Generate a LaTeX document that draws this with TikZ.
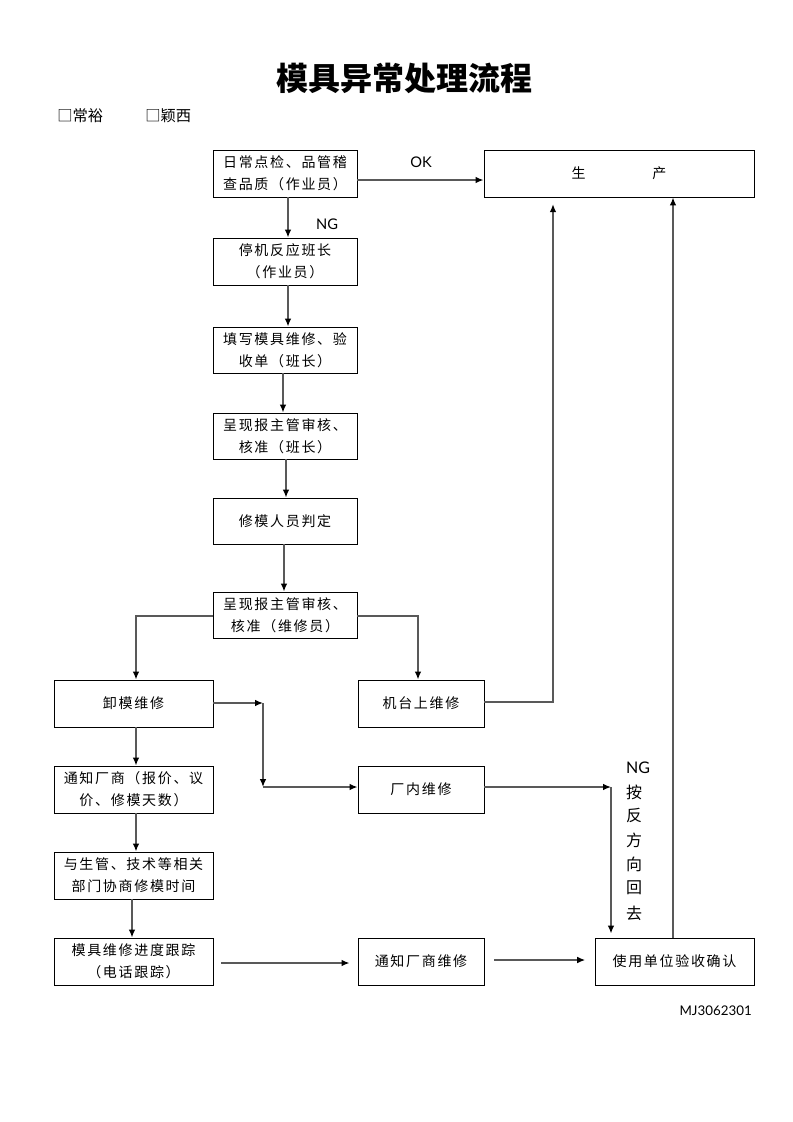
\documentclass[tikz,border=0pt]{standalone}
\usepackage{fontspec}
\setmainfont{Liberation Serif}
\newfontfamily\cjk[LetterSpace=12]{Noto Sans CJK SC}
\newfontfamily\cjkt{Noto Sans CJK SC}
\newfontfamily\latn{Lato}
\usetikzlibrary{arrows.meta}
\begin{document}
\begin{tikzpicture}[x=0.75pt,y=-0.75pt,
  box/.style={draw,line width=0.7pt,inner sep=0pt,align=center,
    font=\cjk\fontsize{10.5}{16.5}\selectfont},
  conn/.style={draw=black!65,line width=1.1pt,
    -{Latex[length=6pt,width=5pt,color=black]}},
  lbl/.style={inner sep=0pt,font=\latn\fontsize{11}{13}\selectfont},
  vch/.style={inner sep=0pt,font=\cjkt\fontsize{12}{14}\selectfont}]
\useasboundingbox (0,0) rectangle (793,1122);
\newcommand\bx[6]{\node[box,minimum width={(#4-#2)*0.75pt},minimum height={(#5-#3)*0.75pt}] (#1) at ({(#2+#4)/2},{(#3+#5)/2}) {#6};}

% title
\node[inner sep=0pt,font=\cjkt\bfseries\fontsize{24}{27}\selectfont] (title) at (404,78) {模具异常处理流程};
\node[inner sep=0pt,anchor=west,font=\cjkt\fontsize{11.5}{13}\selectfont] (c1) at (57,116) {□常裕};
\node[inner sep=0pt,anchor=west,font=\cjkt\fontsize{11.5}{13}\selectfont] (c2) at (145,116) {□颖西};

% boxes
\bx{b1}{213}{150}{357}{197}{日常点检、品管稽\\查品质（作业员）}
\bx{prod}{484}{150}{754}{197}{生\hspace{50pt}产}
\bx{b2}{213}{238}{357}{285}{停机反应班长\\（作业员）}
\bx{b3}{213}{327}{357}{373}{填写模具维修、验\\收单（班长）}
\bx{b4}{213}{413}{357}{459}{呈现报主管审核、\\核准（班长）}
\bx{b5}{213}{498}{357}{544}{修模人员判定}
\bx{b6}{213}{592}{357}{638}{呈现报主管审核、\\核准（维修员）}
\bx{b7}{54}{680}{213}{727}{卸模维修}
\bx{b8}{358}{680}{484}{727}{机台上维修}
\bx{b9}{54}{766}{213}{813}{通知厂商（报价、议\\价、修模天数）}
\bx{b10}{358}{766}{484}{813}{厂内维修}
\bx{b11}{54}{852}{213}{899}{与生管、技术等相关\\部门协商修模时间}
\bx{b12}{54}{938}{213}{985}{模具维修进度跟踪\\（电话跟踪）}
\bx{b13}{358}{938}{484}{985}{通知厂商维修}
\bx{b14}{595}{938}{754}{985}{使用单位验收确认}

% labels
\node[lbl] (ok) at (421,162) {OK};
\node[lbl] (ng1) at (327,224) {NG};
\node[lbl,font=\latn\fontsize{12}{14}\selectfont] (ng2) at (638,768) {NG};
\node[vch] (v1) at (634,792) {按};
\node[vch] (v2) at (634,816) {反};
\node[vch] (v3) at (634,840) {方};
\node[vch] (v4) at (634,864) {向};
\node[vch] (v5) at (634,888) {回};
\node[vch] (v6) at (634,913) {去};
\node[inner sep=0pt,anchor=east,font=\latn\fontsize{10}{12}\selectfont] (code) at (752,1011) {MJ3062301};

% junction coordinates
\coordinate (j1) at (263,703);
\coordinate (j2) at (263,787);
\coordinate (j3) at (611,787);

% connectors
\draw[conn] (b1.east |- 0,180) -- (prod.west |- 0,180);
\draw[conn] (b1.south -| 288,0) -- (b2.north -| 288,0);
\draw[conn] (b2.south -| 288,0) -- (b3.north -| 288,0);
\draw[conn] (b3.south -| 283,0) -- (b4.north -| 283,0);
\draw[conn] (b4.south -| 286,0) -- (b5.north -| 286,0);
\draw[conn] (b5.south -| 284,0) -- (b6.north -| 284,0);
\draw[conn] (b6.west |- 0,616) -| (b7.north -| 136,0);
\draw[conn] (b6.east |- 0,616) -| (b8.north -| 418,0);
\draw[conn,shorten >=5pt] (b8.east |- 0,702) -| (prod.south -| 553,0);
\draw[conn] (b14.north -| 673,0) -- (prod.south -| 673,0);
\draw[conn] (b7.east |- j1) -- (j1);
\draw[conn] (j1) -- (j2);
\draw[conn] (j2) -- (b10.west |- j2);
\draw[conn] (b7.south -| 136,0) -- (b9.north -| 136,0);
\draw[conn,line width=1.6pt] (b9.south -| 136,0) -- (b11.north -| 136,0);
\draw[conn] (b11.south -| 132,0) -- (b12.north -| 132,0);
\draw[conn,shorten <=6pt,shorten >=6pt] (b12.east |- 0,963) -- (b13.west |- 0,963);
\draw[conn,shorten <=7.5pt,shorten >=7pt] (b13.east |- 0,960) -- (b14.west |- 0,960);
\draw[conn] (b10.east |- j3) -- (j3);
\draw[conn,shorten >=3pt] (j3) -- (b14.north -| j3);
\end{tikzpicture}
\end{document}
